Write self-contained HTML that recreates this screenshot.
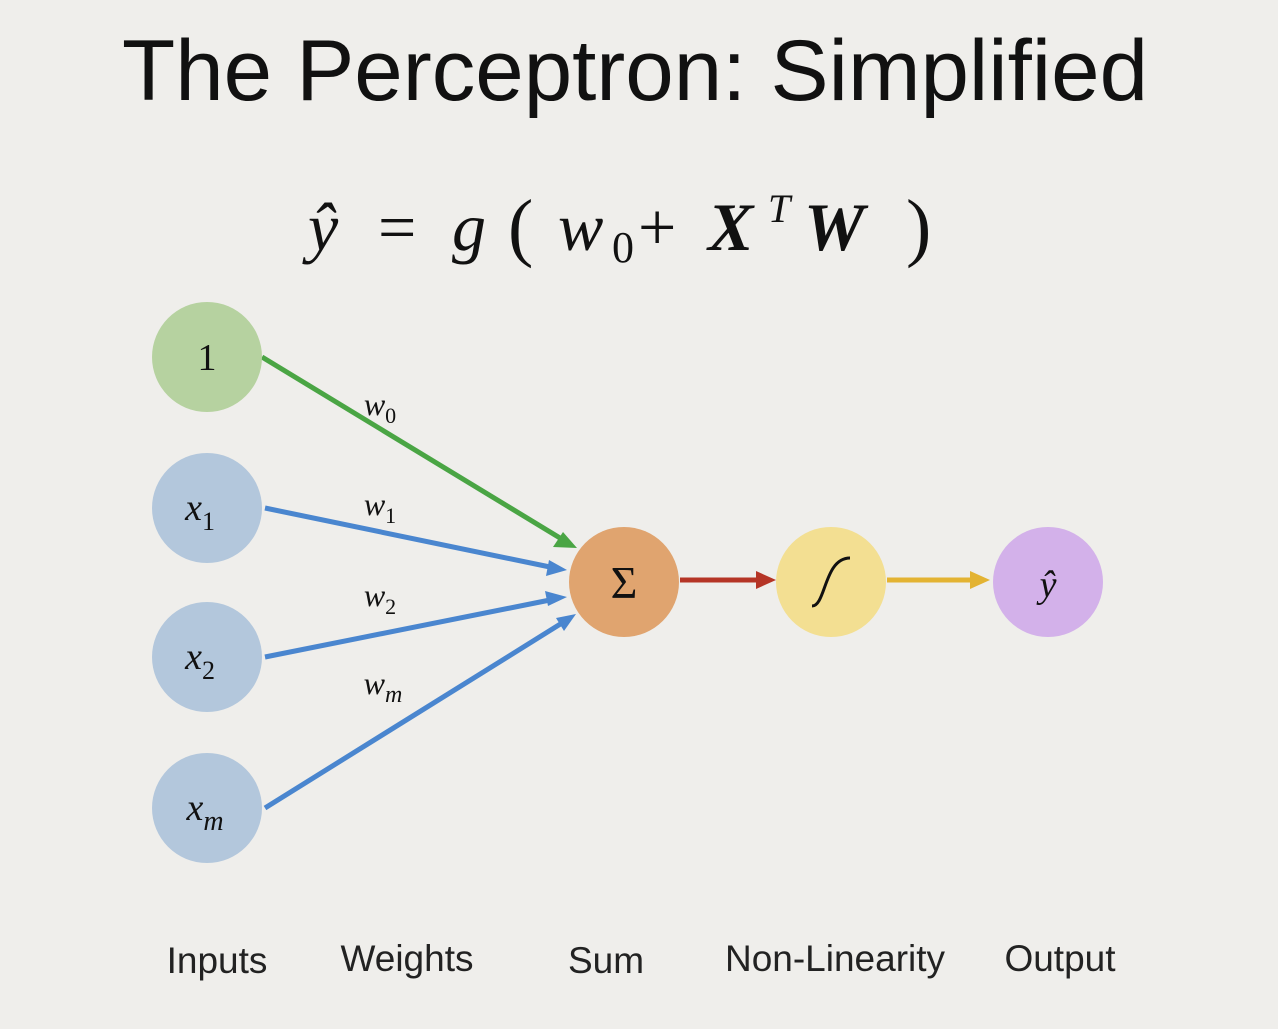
<!DOCTYPE html>
<html><head><style>
html,body{margin:0;padding:0;background:#efeeeb;}
body{width:1278px;height:1024px;overflow:hidden;position:relative;}
</style></head><body>
<svg width="1278" height="1024" viewBox="0 0 1278 1024" xmlns="http://www.w3.org/2000/svg">
<rect width="1278" height="1024" fill="#efeeeb"/>
<text x="122" y="100" font-family="Liberation Sans, sans-serif" font-size="86" fill="#111" textLength="1026" lengthAdjust="spacingAndGlyphs">The Perceptron: Simplified</text>
<g font-family="Liberation Serif, serif" font-size="68" fill="#111">
<text x="308" y="250" font-style="italic">ŷ</text>
<text x="378" y="250">=</text>
<text x="452" y="250" font-style="italic">g</text>
<text x="508" y="252" font-size="76">(</text>
<text x="558" y="250" font-style="italic">w</text>
<text x="612" y="262" font-size="44">0</text>
<text x="638" y="250">+</text>
<text x="708" y="250" font-style="italic" font-weight="bold">X</text>
<text x="768" y="222" font-style="italic" font-size="40">T</text>
<text x="804" y="250" font-style="italic" font-weight="bold">W</text>
<text x="906" y="252" font-size="76">)</text>
</g>

<g stroke-width="5" fill="none">
<line x1="262" y1="357" x2="560" y2="538" stroke="#4aa544"/>
<line x1="265" y1="508" x2="550" y2="567" stroke="#4a86cf"/>
<line x1="265" y1="657" x2="550" y2="600" stroke="#4a86cf"/>
<line x1="265" y1="808" x2="562" y2="623" stroke="#4a86cf"/>
<line x1="680" y1="580" x2="758" y2="580" stroke="#b53526"/>
<line x1="887" y1="580" x2="972" y2="580" stroke="#e3b332"/>
</g>
<polygon points="577,548 553,547 563,532" fill="#4aa544"/>
<polygon points="567,570 546,576 549,560" fill="#4a86cf"/>
<polygon points="567,597 548,606 545,591" fill="#4a86cf"/>
<polygon points="576,614 564,631 556,618" fill="#4a86cf"/>
<polygon points="776,580 756,571 756,589" fill="#b53526"/>
<polygon points="990,580 970,571 970,589" fill="#e3b332"/>

<circle cx="207" cy="357" r="55" fill="#b6d2a0"/>
<circle cx="207" cy="508" r="55" fill="#b3c7dc"/>
<circle cx="207" cy="657" r="55" fill="#b3c7dc"/>
<circle cx="207" cy="808" r="55" fill="#b3c7dc"/>
<circle cx="624" cy="582" r="55" fill="#e0a46f"/>
<circle cx="831" cy="582" r="55" fill="#f3df92"/>
<circle cx="1048" cy="582" r="55" fill="#d3b1ea"/>

<g font-family="Liberation Serif, serif" fill="#111">
<text x="207" y="370" text-anchor="middle" font-size="38">1</text>
<text x="200" y="520" text-anchor="middle" font-size="38" font-style="italic">x<tspan font-size="26" dy="10" font-style="normal">1</tspan></text>
<text x="200" y="669" text-anchor="middle" font-size="38" font-style="italic">x<tspan font-size="26" dy="10" font-style="normal">2</tspan></text>
<text x="205" y="820" text-anchor="middle" font-size="38" font-style="italic">x<tspan font-size="28" dy="10">m</tspan></text>
<text x="624" y="598" text-anchor="middle" font-size="46">Σ</text>
<path d="M812,606 C826,606 824,558 850,558" stroke="#111" stroke-width="3" fill="none"/>
<text x="1048" y="597" text-anchor="middle" font-size="38" font-style="italic">ŷ</text>
<text x="380" y="415" text-anchor="middle" font-size="32" font-style="italic">w<tspan font-size="22" dy="8" font-style="normal">0</tspan></text>
<text x="380" y="515" text-anchor="middle" font-size="32" font-style="italic">w<tspan font-size="22" dy="8" font-style="normal">1</tspan></text>
<text x="380" y="606" text-anchor="middle" font-size="32" font-style="italic">w<tspan font-size="22" dy="8" font-style="normal">2</tspan></text>
<text x="383" y="694" text-anchor="middle" font-size="32" font-style="italic">w<tspan font-size="24" dy="8">m</tspan></text>
</g>

<g font-family="Liberation Sans, sans-serif" font-size="37" fill="#222" text-anchor="middle">
<text x="217" y="973">Inputs</text>
<text x="407" y="971">Weights</text>
<text x="606" y="973">Sum</text>
<text x="835" y="971">Non-Linearity</text>
<text x="1060" y="971">Output</text>
</g>
</svg>
</body></html>
